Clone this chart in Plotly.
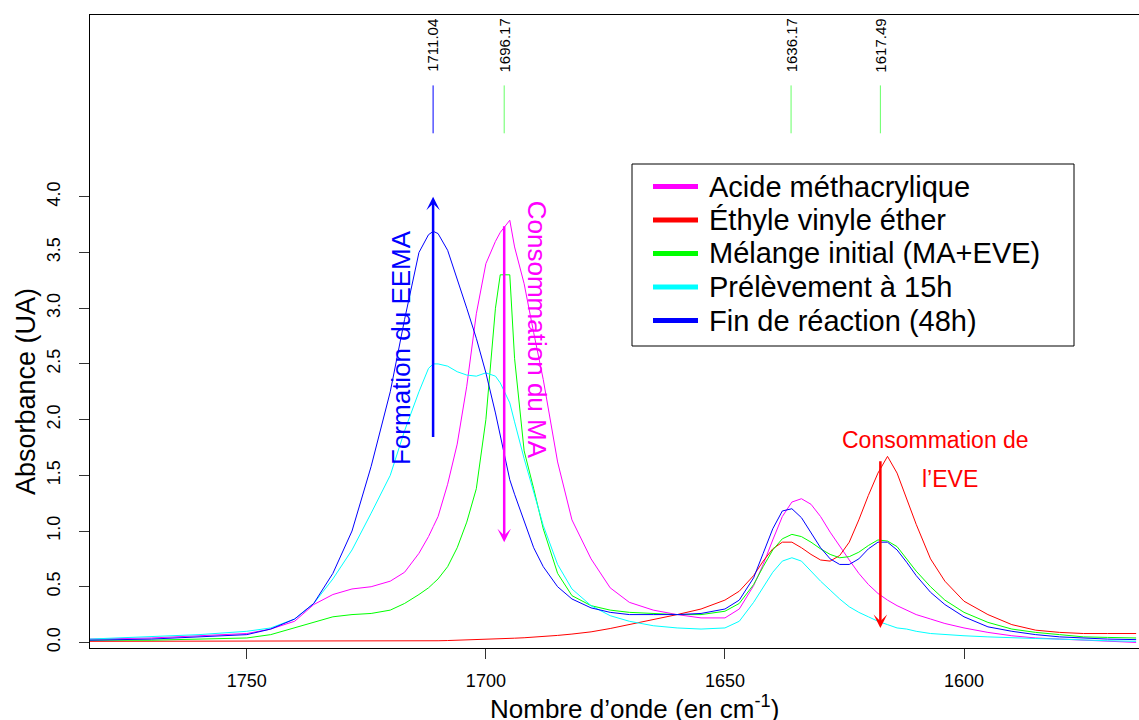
import plotly.graph_objects as go

# FTIR spectra, C=O / C=C region
wavenumber = [1783, 1770, 1760, 1750, 1745, 1740, 1736, 1732, 1728, 1724, 1720, 1717, 1714, 1712, 1711,
              1710, 1708, 1706, 1704, 1702, 1700, 1698, 1697, 1696, 1695, 1694, 1692, 1690, 1688, 1685,
              1682, 1678, 1674, 1670, 1665, 1660, 1655, 1650, 1647, 1644, 1642, 1640, 1638, 1636, 1634,
              1632, 1630, 1628, 1626, 1624, 1622, 1620, 1618, 1616, 1614, 1612, 1610, 1607, 1604, 1600,
              1595, 1590, 1585, 1580, 1575, 1570, 1564]

acide_ma = [0.03, 0.04, 0.06, 0.08, 0.12, 0.19, 0.34, 0.43, 0.48, 0.50, 0.55, 0.63, 0.80, 0.95, 1.04,
            1.13, 1.42, 1.78, 2.30, 2.95, 3.40, 3.60, 3.68, 3.73, 3.79, 3.55, 3.22, 2.78, 2.36, 1.62,
            1.10, 0.75, 0.49, 0.36, 0.29, 0.25, 0.22, 0.22, 0.30, 0.51, 0.70, 0.92, 1.13, 1.26, 1.29,
            1.24, 1.13, 0.99, 0.86, 0.74, 0.62, 0.52, 0.44, 0.38, 0.33, 0.29, 0.25, 0.21, 0.17, 0.13,
            0.09, 0.06, 0.04, 0.03, 0.02, 0.01, 0.0]

eve = [0.01, 0.01, 0.01, 0.01, 0.01, 0.01, 0.01, 0.01, 0.01, 0.01, 0.01, 0.012, 0.013, 0.014, 0.015,
       0.015, 0.017, 0.019, 0.021, 0.024, 0.027, 0.03, 0.032, 0.034, 0.036, 0.038, 0.042, 0.047, 0.053, 0.063,
       0.075, 0.095, 0.125, 0.16, 0.20, 0.25, 0.30, 0.38, 0.46, 0.60, 0.73, 0.84, 0.90, 0.90, 0.85,
       0.79, 0.74, 0.73, 0.78, 0.90, 1.10, 1.32, 1.52, 1.67, 1.52, 1.29, 1.06, 0.75, 0.55, 0.37,
       0.25, 0.16, 0.11, 0.09, 0.08, 0.08, 0.08]

melange = [0.02, 0.02, 0.03, 0.04, 0.07, 0.13, 0.18, 0.23, 0.25, 0.26, 0.29, 0.35, 0.43, 0.49, 0.53,
           0.57, 0.68, 0.85, 1.08, 1.38, 2.00, 3.00, 3.30, 3.30, 3.30, 2.55, 1.72, 1.38, 1.02, 0.62,
           0.42, 0.33, 0.29, 0.27, 0.26, 0.25, 0.25, 0.28, 0.35, 0.52, 0.68, 0.83, 0.93, 0.97, 0.95,
           0.90, 0.84, 0.79, 0.76, 0.77, 0.81, 0.87, 0.92, 0.91, 0.86, 0.75, 0.64, 0.50, 0.38, 0.27,
           0.18, 0.12, 0.09, 0.07, 0.05, 0.045, 0.04]

prelev_15h = [0.03, 0.05, 0.07, 0.10, 0.13, 0.21, 0.35, 0.57, 0.83, 1.16, 1.50, 1.90, 2.25, 2.46, 2.50,
              2.50, 2.48, 2.43, 2.40, 2.39, 2.42, 2.39, 2.33, 2.24, 2.15, 1.98, 1.65, 1.35, 1.05, 0.70,
              0.48, 0.33, 0.24, 0.19, 0.15, 0.13, 0.12, 0.13, 0.19, 0.36, 0.50, 0.63, 0.73, 0.76, 0.73,
              0.64, 0.55, 0.47, 0.39, 0.32, 0.27, 0.23, 0.19, 0.16, 0.13, 0.12, 0.10, 0.08, 0.07, 0.06,
              0.05, 0.04, 0.035, 0.03, 0.02, 0.015, 0.01]

fin_48h = [0.02, 0.03, 0.05, 0.07, 0.12, 0.21, 0.35, 0.62, 1.00, 1.58, 2.25, 2.90, 3.50, 3.66, 3.69,
           3.67, 3.52, 3.27, 3.00, 2.73, 2.42, 2.06, 1.86, 1.66, 1.46, 1.33, 1.08, 0.85, 0.68, 0.50,
           0.39, 0.31, 0.27, 0.25, 0.25, 0.25, 0.26, 0.30, 0.38, 0.58, 0.80, 1.02, 1.18, 1.20, 1.12,
           0.98, 0.85, 0.75, 0.70, 0.70, 0.75, 0.84, 0.90, 0.90, 0.83, 0.72, 0.60, 0.45, 0.34, 0.23,
           0.14, 0.10, 0.07, 0.05, 0.04, 0.03, 0.025]

series_names = ["Acide méthacrylique", "Éthyle vinyle éther", "Mélange initial (MA+EVE)",
                "Prélèvement à 15h", "Fin de réaction (48h)"]
series_values = [acide_ma, eve, melange, prelev_15h, fin_48h]
series_colors = ["#ff00ff", "#ff0000", "#00ff00", "#00ffff", "#0000ff"]

peak_positions = [1711.04, 1696.17, 1636.17, 1617.49]
peak_labels = ["1711.04", "1696.17", "1636.17", "1617.49"]
peak_colors = ["#0000ff", "#66ff66", "#66ff66", "#66ff66"]

x_ticks = [1750, 1700, 1650, 1600]
y_ticks = [0.0, 0.5, 1.0, 1.5, 2.0, 2.5, 3.0, 3.5, 4.0]

FONT = "Liberation Sans, Arial, sans-serif"
W, H = 1139, 720
L, T, B = 90, 15, 72


def px_x(p):
    # screen pixel -> paper fraction
    return (p - L) / (W - L)


def px_y(p):
    return (H - B - p) / (H - B - T)


fig = go.Figure()

for name, ys, col in zip(series_names, series_values, series_colors):
    fig.add_trace(go.Scatter(x=wavenumber, y=ys, mode="lines", name=name,
                             line=dict(color=col, width=1), showlegend=False))

# peak markers on top
for pos, lab, col in zip(peak_positions, peak_labels, peak_colors):
    fig.add_shape(type="line", xref="x", yref="y", x0=pos, x1=pos, y0=4.57, y1=5.0,
                  line=dict(color=col, width=1))
    fig.add_annotation(x=pos, y=5.1, xref="x", yref="y", text=lab, showarrow=False,
                       textangle=-90, yanchor="bottom", font=dict(size=15, color="black"))

# arrows + comments
arrows = [
    (1711.04, 1.83, 4.0, "#0000ff"),
    (1696.17, 3.75, 0.90, "#ff00ff"),
    (1617.49, 1.64, 0.13, "#ff0000"),
]
for xa, y_tail, y_head, col in arrows:
    fig.add_annotation(x=xa, y=y_head, ax=xa, ay=y_tail, xref="x", yref="y", axref="x", ayref="y",
                       text="", showarrow=True, arrowhead=3, arrowsize=0.9, arrowwidth=2.5,
                       arrowcolor=col)

fig.add_annotation(x=1717.8, y=2.65, xref="x", yref="y", text="Formation du EEMA", showarrow=False,
                   textangle=-90, font=dict(size=26, color="#0000ff"))
fig.add_annotation(x=1689.4, y=2.81, xref="x", yref="y", text="Consommation du MA", showarrow=False,
                   textangle=90, font=dict(size=26, color="#ff00ff"))
fig.add_annotation(x=1605.9, y=1.82, xref="x", yref="y", text="Consommation de", showarrow=False,
                   font=dict(size=23, color="#ff0000"))
fig.add_annotation(x=1602.9, y=1.47, xref="x", yref="y", text="l’EVE", showarrow=False,
                   font=dict(size=23, color="#ff0000"))

# legend box drawn by hand (R-style, tight rows)
fig.add_shape(type="rect", xref="paper", yref="paper", x0=px_x(632), x1=px_x(1074),
              y0=px_y(346), y1=px_y(164), line=dict(color="black", width=1), fillcolor="white", layer="above")
row_y = [186.5, 220, 253.5, 287, 320.5]
for ry, name, col in zip(row_y, series_names, series_colors):
    fig.add_shape(type="line", xref="paper", yref="paper", x0=px_x(653), x1=px_x(698),
                  y0=px_y(ry), y1=px_y(ry), line=dict(color=col, width=5), layer="above")
    fig.add_annotation(x=px_x(707), y=px_y(ry), xref="paper", yref="paper", text=name,
                       showarrow=False, xanchor="left", yanchor="middle",
                       font=dict(size=29, color="black"))

# axis titles
fig.add_annotation(x=px_x(634), y=px_y(707), xref="paper", yref="paper",
                   text="Nombre d’onde (en cm<sup>-1</sup>)", showarrow=False,
                   xanchor="center", yanchor="middle",
                   font=dict(size=26, color="black"))
fig.add_annotation(x=px_x(26), y=px_y(392), xref="paper", yref="paper",
                   text="Absorbance (UA)", showarrow=False, textangle=-90,
                   xanchor="center", yanchor="middle",
                   font=dict(size=27, color="black"))

fig.update_layout(
    width=W, height=H,
    margin=dict(l=L, r=0, t=T, b=B),
    plot_bgcolor="white", paper_bgcolor="white",
    font=dict(family=FONT, color="black"),
    showlegend=False,
)
fig.update_xaxes(range=[1782.8, 1563.4], tickvals=x_ticks, ticks="outside", ticklen=10,
                 tickcolor="#333", tickfont=dict(size=18), ticklabelstandoff=6,
                 showline=True, mirror=True, linecolor="black", linewidth=1,
                 showgrid=False, zeroline=False)
fig.update_yaxes(range=[-0.05, 5.632], tickvals=y_ticks, ticktext=[f"{v:.1f}" for v in y_ticks],
                 ticks="outside", ticklen=10, tickcolor="#333", tickfont=dict(size=18),
                 tickangle=-90, ticklabelstandoff=12,
                 showline=True, mirror=True, linecolor="black", linewidth=1,
                 showgrid=False, zeroline=False)

# drop the default page margin so the figure fills the window
fig.write_html("out.html", config={"displayModeBar": False},
               post_script="document.body.style.margin='0';document.body.style.overflow='hidden';")
